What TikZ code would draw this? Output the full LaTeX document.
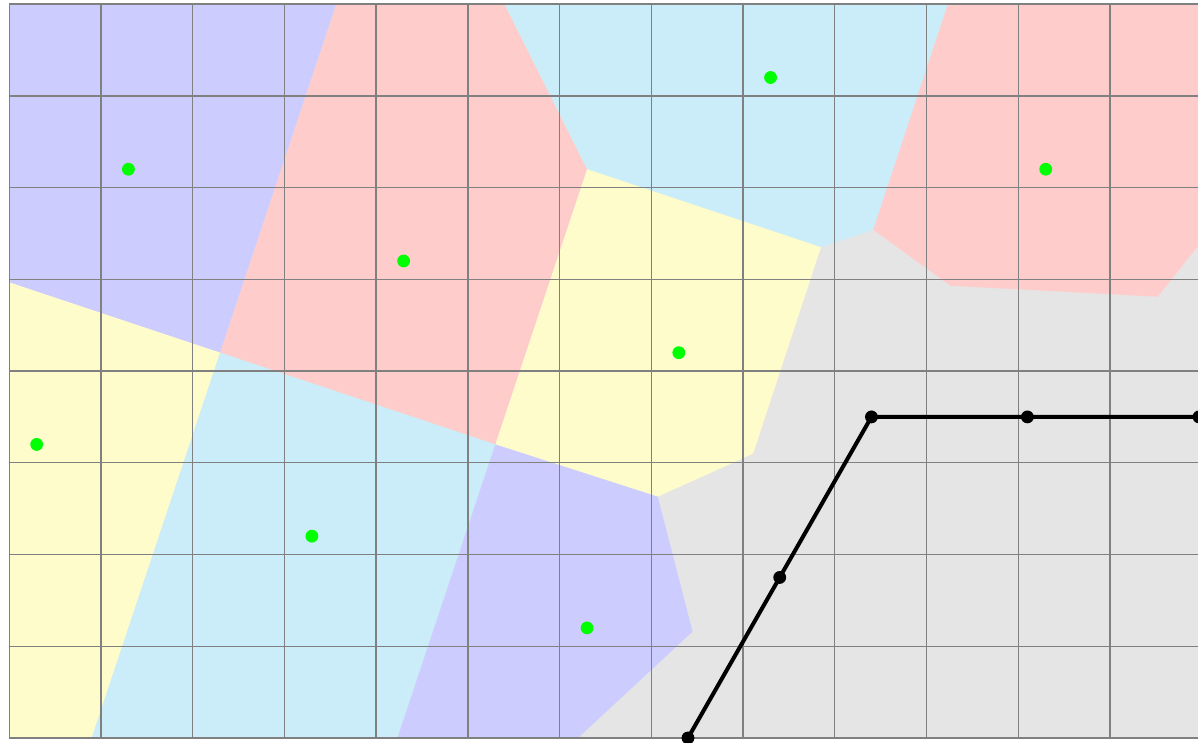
\documentclass[tikz,border=0pt]{standalone}
\usepackage{tikz}
\usetikzlibrary{positioning}
\definecolor{cellblue}{RGB}{204,204,255}
\definecolor{cellred}{RGB}{255,204,204}
\definecolor{cellcyan}{RGB}{203,237,249}
\definecolor{cellyellow}{RGB}{255,252,204}
\definecolor{cellgray}{RGB}{229,229,229}
\definecolor{sitegreen}{RGB}{0,255,0}
\begin{document}
\begin{tikzpicture}[
  cell/.style={draw=none},
  gridline/.style={draw=gray, line width=0.45pt},
  site/.style={circle, fill=sitegreen, inner sep=0pt, minimum size=0.14cm},
  pathdot/.style={circle, fill=black, inner sep=0pt, minimum size=0.14cm},
  polyline/.style={draw=black, line width=1.25pt}
]
\useasboundingbox (-0.1,-0.045) rectangle (12.96,8.045);
\clip (0,-0.045) rectangle (12.96,8.045);
% background cell
\fill[cellgray] (0,0) rectangle (13.5,8);
% voronoi cells
\fill[cellblue] (0,8) -- (3.567,8) -- (2.3,4.2) -- (0,4.967) -- cycle;
\fill[cellred] (3.567,8) -- (5.4,8) -- (6.3,6.2) -- (5.3,3.2) -- (2.3,4.2) -- cycle;
\fill[cellcyan] (5.4,8) -- (10.233,8) -- (9.42,5.54) -- (8.85,5.35) -- (6.3,6.2) -- cycle;
\fill[cellred] (10.233,8) -- (13.5,8) -- (13.5,6.04) -- (12.52,4.81) -- (10.26,4.93) -- (9.42,5.54) -- cycle;
\fill[cellyellow] (6.3,6.2) -- (8.85,5.35) -- (8.11,3.1) -- (7.07,2.63) -- (5.3,3.2) -- cycle;
\fill[cellyellow] (0,4.967) -- (2.3,4.2) -- (0.9,0) -- (0,0) -- cycle;
\fill[cellcyan] (2.3,4.2) -- (5.3,3.2) -- (4.233,0) -- (0.9,0) -- cycle;
\fill[cellblue] (5.3,3.2) -- (7.07,2.63) -- (7.45,1.16) -- (6.2,0) -- (4.233,0) -- cycle;
% grid
\draw[gridline] (0,0) grid (13,8);
% polyline
\coordinate (p0) at (7.4,0);
\coordinate (p1) at (8.4,1.75);
\coordinate (p2) at (9.4,3.5);
\coordinate (p3) at (11.1,3.5);
\coordinate (p4) at (12.97,3.5);
\draw[polyline] (p0) -- (p1) -- (p2) -- (p3) -- (p4);
\foreach \p in {p0,p1,p2,p3,p4}
  \node[pathdot] at (\p) {};
% sites
\foreach \x/\y [count=\i] in {1.3/6.2, 4.3/5.2, 8.3/7.2, 11.3/6.2, 7.3/4.2, 0.3/3.2, 3.3/2.2, 6.3/1.2}
  \node[site] (s\i) at (\x,\y) {};
\end{tikzpicture}
\end{document}
